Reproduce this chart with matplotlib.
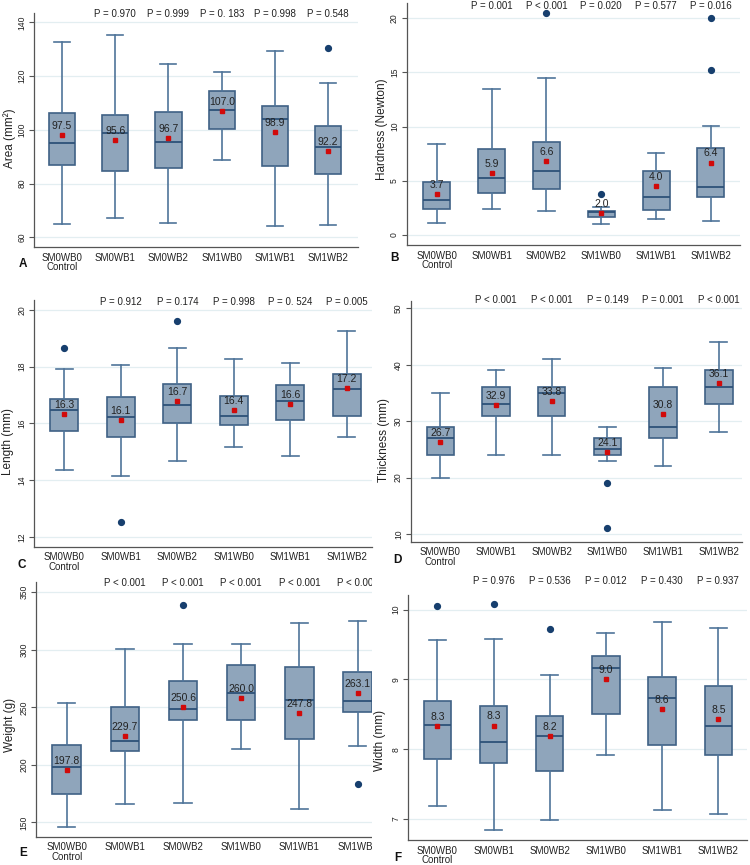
import matplotlib
matplotlib.use('Agg')
import matplotlib.pyplot as plt
import matplotlib.transforms as mtrans
from matplotlib.patches import Rectangle

plt.rcParams['font.family'] = ['Liberation Sans', 'DejaVu Sans']

# ---------------- data ----------------
categories = ["SM0WB0\nControl", "SM0WB1", "SM0WB2", "SM1WB0", "SM1WB1", "SM1WB2"]

# A: Area
area_hi = [132.8, 135.2, 124.4, 121.5, 129.3, 117.3]
area_q3 = [106.3, 105.6, 106.6, 114.4, 108.9, 101.4]
area_med = [95.0, 98.8, 95.6, 107.2, 104.0, 93.7]
area_q1 = [86.8, 84.7, 85.8, 100.4, 86.5, 83.4]
area_lo = [64.8, 67.2, 65.2, 88.9, 64.3, 64.6]
area_mean = [97.9, 96.3, 97.1, 107.1, 99.1, 92.2]
area_labels = ["97.5", "95.6", "96.7", "107.0", "98.9", "92.2"]
area_out = [[], [], [], [], [], [130.3]]
area_p = ["", "P = 0.970", "P = 0.999", "P = 0. 183", "P = 0.998", "P = 0.548"]

# B: Hardness
hard_hi = [8.37, 13.5, 14.49, 2.61, 7.61, 10.03]
hard_q3 = [4.92, 7.94, 8.55, 2.21, 5.89, 8.07]
hard_med = [3.23, 5.23, 5.91, 2.10, 3.50, 4.39]
hard_q1 = [2.40, 3.85, 4.25, 1.63, 2.27, 3.47]
hard_lo = [1.14, 2.40, 2.22, 1.04, 1.44, 1.26]
hard_mean = [3.82, 5.72, 6.86, 2.06, 4.48, 6.69]
hard_labels = ["3.7", "5.9", "6.6", "2.0", "4.0", "6.4"]
hard_out = [[], [], [20.52], [3.80], [], [20.0, 15.26]]
hard_p = ["", "P = 0.001", "P < 0.001", "P = 0.020", "P = 0.577", "P = 0.016"]

# C: Length
len_hi = [17.92, 18.04, 18.64, 18.26, 18.13, 19.24]
len_q3 = [16.85, 16.92, 17.40, 16.98, 17.34, 17.74]
len_med = [16.48, 16.23, 16.65, 16.25, 16.80, 17.22]
len_q1 = [15.73, 15.54, 16.02, 15.93, 16.11, 16.25]
len_lo = [14.36, 14.15, 14.69, 15.16, 14.87, 15.54]
len_mean = [16.33, 16.11, 16.80, 16.47, 16.70, 17.24]
len_labels = ["16.3", "16.1", "16.7", "16.4", "16.6", "17.2"]
len_out = [[18.65], [12.55], [19.59], [], [], []]
len_p = ["", "P = 0.912", "P = 0.174", "P = 0.998", "P = 0. 524", "P = 0.005"]

# D: Thickness
thk_hi = [35.0, 39.0, 41.0, 29.0, 39.5, 44.0]
thk_q3 = [29.0, 36.0, 36.0, 27.0, 36.0, 39.0]
thk_med = [27.0, 33.0, 35.0, 25.0, 29.0, 36.0]
thk_q1 = [24.0, 31.0, 31.0, 24.0, 27.0, 33.0]
thk_lo = [20.0, 24.0, 24.0, 23.0, 22.0, 28.0]
thk_mean = [26.3, 32.9, 33.5, 24.5, 31.2, 36.8]
thk_labels = ["26.7", "32.9", "33.8", "24.1", "30.8", "36.1"]
thk_out = [[], [], [], [19.0, 11.0], [], []]
thk_p = ["", "P < 0.001", "P < 0.001", "P = 0.149", "P = 0.001", "P < 0.001"]

# E: Weight
wt_hi = [253.8, 300.4, 305.4, 305.1, 323.6, 325.4]
wt_q3 = [217.2, 250.0, 272.9, 286.5, 285.1, 280.4]
wt_med = [198.4, 220.7, 248.3, 262.5, 256.1, 255.8]
wt_q1 = [174.9, 212.3, 238.7, 239.3, 222.8, 245.7]
wt_lo = [145.7, 166.0, 167.1, 214.1, 161.6, 216.4]
wt_mean = [195.5, 225.1, 250.6, 258.1, 245.1, 262.2]
wt_labels = ["197.8", "229.7", "250.6", "260.0", "247.8", "263.1"]
wt_out = [[], [], [338.7], [], [], [183.0]]
wt_p = ["", "P < 0.001", "P < 0.001", "P < 0.001", "P < 0.001", "P < 0.001"]

# F: Width
wd_hi = [9.57, 9.58, 9.07, 9.66, 9.82, 9.74]
wd_q3 = [8.69, 8.62, 8.48, 9.34, 9.03, 8.91]
wd_med = [8.35, 8.11, 8.19, 9.17, 8.73, 8.33]
wd_q1 = [7.86, 7.81, 7.69, 8.51, 8.06, 7.92]
wd_lo = [7.18, 6.84, 6.98, 7.92, 7.13, 7.07]
wd_mean = [8.33, 8.34, 8.19, 9.00, 8.58, 8.43]
wd_labels = ["8.3", "8.3", "8.2", "9.0", "8.6", "8.5"]
wd_out = [[10.05], [10.08], [9.72], [], [], []]
wd_p = ["", "P = 0.976", "P = 0.536", "P = 0.012", "P = 0.430", "P = 0.937"]

# ---------------- style ----------------
W, H = 750, 865
FILL = '#8fa5bb'
EDGE = '#3f6185'
WHISK = '#4f7499'
MEDC = '#2d5178'
NAVY = '#173f6e'
RED = '#d10a0a'
GRID = '#e3eef1'
TXT = '#222222'

fig = plt.figure(figsize=(7.5, 8.65), dpi=100)


def add_ax(l, r, t, b, z=0):
    return fig.add_axes([l / W, 1 - b / H, (r - l) / W, (b - t) / H], zorder=z)


def panel(box, ylim, xlim, yticks, stats, mlabels, pvals, ptop, ylabel, ylab_px,
          letter, letter_px, z=0):
    l, r, t, b = box
    ax = add_ax(l, r, t, b, z)
    hi, q3, med, q1, lo, mean, outl = stats
    st = []
    for i in range(6):
        st.append(dict(med=med[i], q1=q1[i], q3=q3[i], whislo=lo[i], whishi=hi[i],
                       fliers=outl[i], mean=mean[i]))
    pos = list(range(1, 7))
    ax.bxp(st, positions=pos, widths=0.49, capwidths=0.30, patch_artist=True,
           showmeans=True, manage_ticks=False,
           boxprops=dict(facecolor=FILL, edgecolor=EDGE, linewidth=1.2),
           whiskerprops=dict(color=WHISK, linewidth=1.2),
           capprops=dict(color=WHISK, linewidth=1.2),
           medianprops=dict(color=MEDC, linewidth=1.3),
           meanprops=dict(marker='s', markerfacecolor=RED, markeredgecolor=RED,
                          markersize=3.2),
           flierprops=dict(marker='o', markerfacecolor=NAVY, markeredgecolor=NAVY,
                           markersize=4.2))
    for x, m, lab in zip(pos, mean, mlabels):
        ax.annotate(lab, (x, m), xytext=(0, 6.5), textcoords='offset points',
                    ha='center', va='center', fontsize=7.5, color=TXT)
    ax.set_xlim(*xlim)
    ax.set_ylim(*ylim)
    ax.set_yticks(yticks)
    ax.set_xticks(pos)
    ax.set_xticklabels(categories)
    for lab in ax.get_xticklabels():
        lab.set_linespacing(0.95)
    ax.tick_params(axis='x', length=0, pad=4, labelsize=7, labelcolor=TXT)
    ax.tick_params(axis='y', length=3.5, width=0.8, color='#555555', pad=2,
                   labelsize=6.2, labelcolor=TXT, labelrotation=90)
    for lab in ax.get_yticklabels():
        lab.set_verticalalignment('center')
    ax.yaxis.grid(True, color=GRID, linewidth=0.9)
    ax.set_axisbelow(True)
    for s in ['top', 'right']:
        ax.spines[s].set_visible(False)
    for s in ['left', 'bottom']:
        ax.spines[s].set_color('#555555')
        ax.spines[s].set_linewidth(0.9)
    ax.set_ylabel(ylabel, fontsize=8.5, color=TXT, va='center')
    ax.yaxis.set_label_coords((ylab_px[0] - l) / (r - l), (b - ylab_px[1]) / (b - t))
    trans = mtrans.blended_transform_factory(ax.transData, fig.transFigure)
    for x, p in zip(pos, pvals):
        if p:
            ax.text(x, 1 - ptop / H, p, transform=trans, ha='center', va='center',
                    fontsize=7, color=TXT, clip_on=False)
    fig.text(letter_px[0] / W, 1 - letter_px[1] / H, letter, fontweight='bold',
             fontsize=8.5, ha='center', va='center', color='#111111', zorder=5)
    return ax


panel((34, 358, 13.3, 247), (56.4, 143.35), (0.474, 6.56), [60, 80, 100, 120, 140],
      (area_hi, area_q3, area_med, area_q1, area_lo, area_mean, area_out),
      area_labels, area_p, 14, "Area (mm²)", (10, 138), "A", (22.7, 264.3))

panel((406.7, 740, 3.3, 245), (-0.92, 21.38), (0.453, 6.53), [0, 5, 10, 15, 20],
      (hard_hi, hard_q3, hard_med, hard_q1, hard_lo, hard_mean, hard_out),
      hard_labels, hard_p, 6, "Hardness (Newton)", (381.7, 129), "B", (395, 258.3))

panel((34.3, 371.7, 300, 546.7), (11.67, 20.34), (0.469, 6.44), [12, 14, 16, 18, 20],
      (len_hi, len_q3, len_med, len_q1, len_lo, len_mean, len_out),
      len_labels, len_p, 301.7, "Length (mm)", (8.3, 441.7), "C", (21.7, 565))

panel((410.7, 741.7, 301, 541.7), (8.63, 51.3), (0.469, 6.41), [10, 20, 30, 40, 50],
      (thk_hi, thk_q3, thk_med, thk_q1, thk_lo, thk_mean, thk_out),
      thk_labels, thk_p, 299.7, "Thickness (mm)", (384, 440), "D", (397.7, 560))

panel((36, 386.6, 581.7, 836.7), (137.5, 359.2), (0.472, 6.5), [150, 200, 250, 300, 350],
      (wt_hi, wt_q3, wt_med, wt_q1, wt_lo, wt_mean, wt_out),
      wt_labels, wt_p, 583, "Weight (g)", (10, 725), "E", (22.7, 853.3), z=0)

# panel E is cut off at its right edge in the reference
fig.add_artist(Rectangle((372 / W, 0), 36 / W, 292 / H, transform=fig.transFigure,
                         facecolor='white', edgecolor='none', zorder=1))

panel((408.3, 746.7, 595, 840), (6.70, 10.21), (0.484, 6.505), [7, 8, 9, 10],
      (wd_hi, wd_q3, wd_med, wd_q1, wd_lo, wd_mean, wd_out),
      wd_labels, wd_p, 580.7, "Width (mm)", (380, 740.7), "F", (397.7, 858.3), z=2)

fig.savefig('out.png', dpi=100, facecolor='white')
